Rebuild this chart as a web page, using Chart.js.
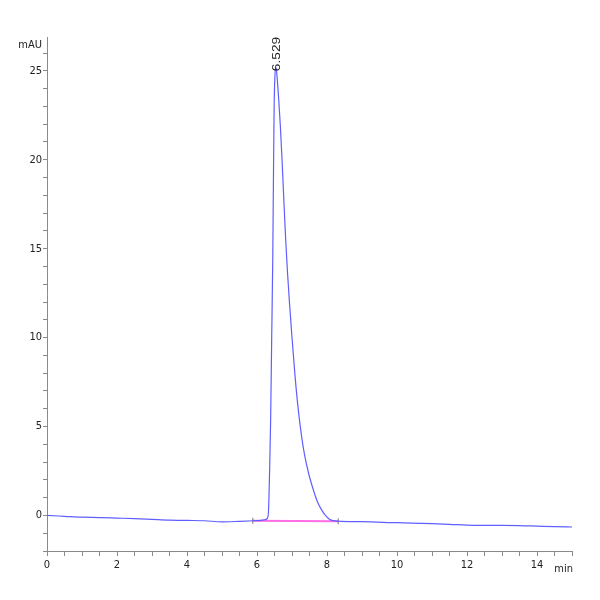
<!DOCTYPE html>
<html>
<head>
<meta charset="utf-8">
<script src="https://cdn.jsdelivr.net/npm/chart.js@4/dist/chart.umd.min.js"></script>
<style>
  body { margin: 0; background: #fff; }
  #chromChart { display: block; }
</style>
</head>
<body>
<canvas id="chromChart" width="600" height="600"></canvas>
<script>
// retention time (min) and detector signal (mAU)
let times = [0, 0.5, 1, 1.5, 2, 2.5, 3, 3.5, 4, 4.5, 5, 5.5, 5.9, 6.1, 6.2, 6.3,
    6.33, 6.36, 6.39, 6.42, 6.45, 6.47, 6.49, 6.51, 6.54, 6.58, 6.62, 6.67, 6.72, 6.77,
    6.82, 6.87, 6.93, 7.0, 7.08, 7.16, 7.25, 7.35, 7.47, 7.6, 7.72, 7.85, 8.0, 8.1, 8.3,
    9, 10, 11, 11.5, 12, 12.5, 13, 13.5, 14, 14.5, 15]
let signal = [0, -0.05, -0.1, -0.12, -0.15, -0.18, -0.22, -0.26, -0.28, -0.3, -0.36, -0.33, -0.3, -0.28, -0.25, -0.15,
    0.3, 2.5, 5.4, 10, 14.4, 19, 23, 24.6, 25.2, 24.5, 23.4, 21.8, 19.8, 17.6,
    15.5, 13.7, 11.9, 10.0, 8.0, 6.3, 4.8, 3.5, 2.4, 1.5, 0.8, 0.3, -0.1, -0.25, -0.32,
    -0.35, -0.41, -0.46, -0.5, -0.55, -0.56, -0.56, -0.57, -0.6, -0.63, -0.65]

// integration baseline of the peak
let baseTimes = [5.88, 8.32]
let baseValues = [-0.3, -0.33]

let peakLabels = ['6.529']
let peakTimes = [6.529]
let peakHeights = [25.2]

let xTicks = [0, 2, 4, 6, 8, 10, 12, 14]
let yTicks = [0, 5, 10, 15, 20, 25]

let axisColor = '#8a8a8a'
let fontFamily = "'DejaVu Sans Condensed', 'Liberation Sans Narrow', 'Liberation Sans', Arial, sans-serif"
let labelFont = { family: fontFamily, size: 11 }

let extraText = {
    id: 'extraText',
    afterDraw(chart) {
        let ctx = chart.ctx
        let area = chart.chartArea
        let xs = chart.scales.x
        let ys = chart.scales.y
        ctx.save()
        ctx.fillStyle = '#222'
        ctx.font = '11px ' + fontFamily
        // axis units
        ctx.textAlign = 'right'
        ctx.textBaseline = 'middle'
        ctx.fillText('mAU', area.left - 5, area.top + 8)
        ctx.fillText('min', area.right + 1, area.bottom + 18)
        // peak retention time, rotated
        ctx.font = "11px 'Liberation Sans', Arial, sans-serif"
        peakLabels.forEach((text, i) => {
            let px = xs.getPixelForValue(peakTimes[i])
            let py = ys.getPixelForValue(peakHeights[i])
            ctx.save()
            ctx.translate(px + 1, py + 4)
            ctx.rotate(-Math.PI / 2)
            ctx.scale(1.25, 1)
            ctx.textAlign = 'left'
            ctx.textBaseline = 'middle'
            ctx.fillText(text, 0, 0)
            ctx.restore()
        })
        ctx.restore()
    }
}

let ctx = document.getElementById('chromChart').getContext('2d')
let chart = new Chart(ctx, {
    type: 'line',
    data: {
        datasets: [{
            label: 'signal',
            data: times.map((t, i) => ({ x: t, y: signal[i] })),
            borderColor: 'rgb(95, 95, 255)',
            borderWidth: 1.2,
            pointRadius: 0,
            cubicInterpolationMode: 'monotone'
        }, {
            label: 'baseline',
            data: baseTimes.map((t, i) => ({ x: t, y: baseValues[i] })),
            borderColor: 'rgb(255, 110, 230)',
            borderWidth: 2,
            pointStyle: 'line',
            rotation: 90,
            pointRadius: 3,
            pointBorderColor: '#777',
            pointBorderWidth: 1,
            tension: 0
        }]
    },
    options: {
        responsive: false,
        animation: false,
        layout: {
            padding: { top: 37, right: 28, left: 0, bottom: 0 }
        },
        plugins: {
            legend: { display: false },
            tooltip: { enabled: false }
        },
        scales: {
            x: {
                type: 'linear',
                min: 0,
                max: 15,
                afterFit: s => { s.height = 49 },
                border: { color: axisColor, width: 1 },
                grid: {
                    drawOnChartArea: false,
                    drawTicks: true,
                    tickLength: 5,
                    color: axisColor
                },
                ticks: {
                    stepSize: 0.5,
                    autoSkip: false,
                    maxRotation: 0,
                    includeBounds: false,
                    padding: 3,
                    color: '#222',
                    font: labelFont,
                    callback: v => xTicks.includes(v) ? String(v) : ''
                }
            },
            y: {
                type: 'linear',
                min: -2,
                max: 26.9,
                afterFit: s => { s.width = 47 },
                border: { color: axisColor, width: 1 },
                grid: {
                    drawOnChartArea: false,
                    drawTicks: true,
                    tickLength: 4,
                    color: axisColor
                },
                ticks: {
                    stepSize: 1,
                    autoSkip: false,
                    includeBounds: false,
                    padding: 1,
                    color: '#222',
                    font: labelFont,
                    callback: v => yTicks.includes(v) ? String(v) : ''
                }
            }
        }
    },
    plugins: [extraText]
})
</script>
</body>
</html>
